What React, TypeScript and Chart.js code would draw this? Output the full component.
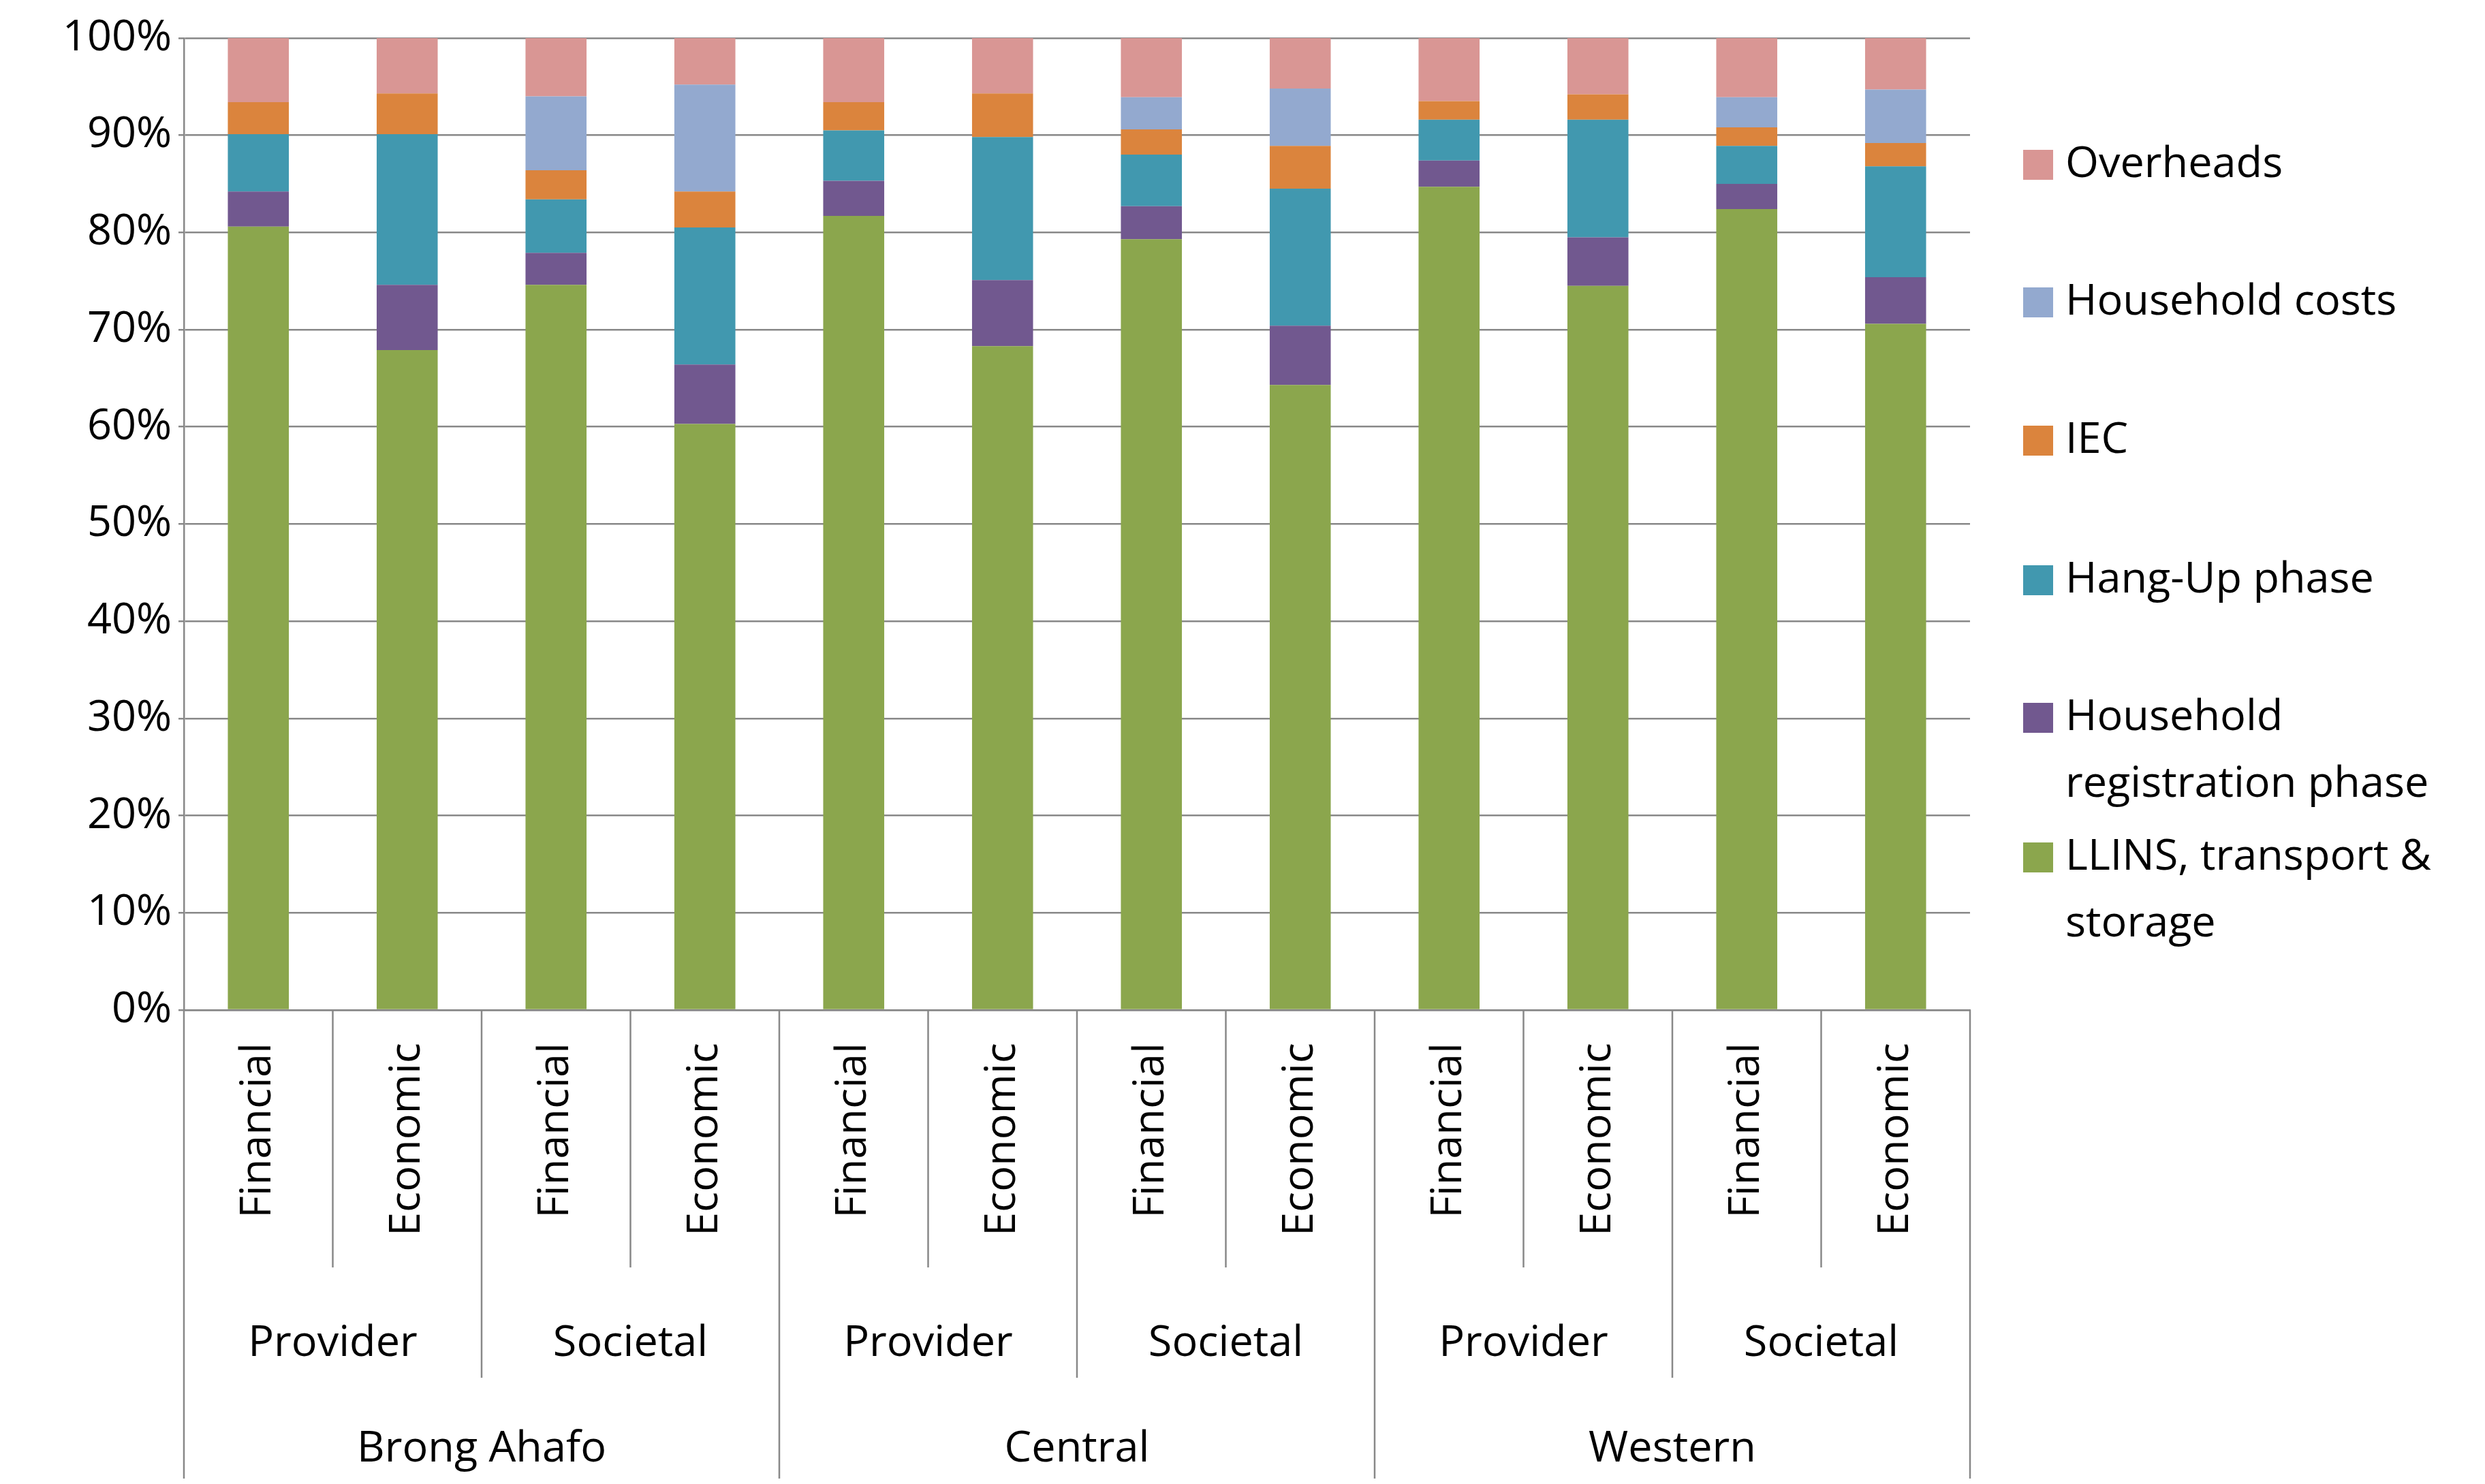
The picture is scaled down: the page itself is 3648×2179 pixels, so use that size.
import React, { useEffect, useRef } from "react";
import { Chart, registerables } from "chart.js";
Chart.register(...registerables);

const measures = ["Financial", "Economic", "Financial", "Economic", "Financial", "Economic", "Financial", "Economic", "Financial", "Economic", "Financial", "Economic"];
const perspectives = ["Provider", "Societal", "Provider", "Societal", "Provider", "Societal"];
const regions = ["Brong Ahafo", "Central", "Western"];

const llins = [80.6, 67.9, 74.6, 60.3, 81.7, 68.3, 79.3, 64.3, 84.7, 74.5, 82.4, 70.6];
const registration = [3.6, 6.7, 3.3, 6.1, 3.6, 6.8, 3.4, 6.1, 2.7, 5.0, 2.6, 4.8];
const hangUp = [5.9, 15.5, 5.5, 14.1, 5.2, 14.7, 5.3, 14.1, 4.2, 12.1, 3.9, 11.4];
const iec = [3.3, 4.2, 3.0, 3.7, 2.9, 4.5, 2.6, 4.4, 1.9, 2.6, 1.9, 2.4];
const householdCosts = [0, 0, 7.6, 11.0, 0, 0, 3.3, 5.9, 0, 0, 3.1, 5.5];
const overheads = [6.6, 5.7, 6.0, 4.8, 6.6, 5.7, 6.1, 5.2, 6.5, 5.8, 6.1, 5.3];

const FONT = "'Open Sans', sans-serif";
const FS = 63;

const series = [
  { label: "LLINS, transport & storage", lines: ["LLINS, transport &", "storage"], data: llins, color: "#8BA64D" },
  { label: "Household registration phase", lines: ["Household", "registration phase"], data: registration, color: "#71588F" },
  { label: "Hang-Up phase", lines: ["Hang-Up phase"], data: hangUp, color: "#4198AF" },
  { label: "IEC", lines: ["IEC"], data: iec, color: "#DB843D" },
  { label: "Household costs", lines: ["Household costs"], data: householdCosts, color: "#93A9CF" },
  { label: "Overheads", lines: ["Overheads"], data: overheads, color: "#D99694" },
];

const groupPlugin = {
  id: "groups",
  afterDraw(chart: any) {
    const ctx = chart.ctx;
    const x = chart.scales.x;
    const area = chart.chartArea;
    const n = measures.length;
    const step = x.getPixelForValue(1) - x.getPixelForValue(0);
    const edge = (i: number) => x.getPixelForValue(0) - step / 2 + i * step;
    const bottom = chart.height;
    ctx.save();
    ctx.strokeStyle = "#888";
    ctx.lineWidth = 2.5;
    for (let i = 0; i <= n; i++) {
      let y2 = area.bottom + 378;
      if (i % 4 === 0) y2 = bottom;
      else if (i % 2 === 0) y2 = area.bottom + 540;
      ctx.beginPath();
      ctx.moveTo(edge(i), area.bottom);
      ctx.lineTo(edge(i), y2);
      ctx.stroke();
    }
    ctx.fillStyle = "#000";
    ctx.font = `${FS}px ${FONT}`;
    ctx.textAlign = "center";
    ctx.textBaseline = "middle";
    perspectives.forEach((p, i) => ctx.fillText(p, (edge(i * 2) + edge(i * 2 + 2)) / 2, area.bottom + 490));
    regions.forEach((r, i) => ctx.fillText(r, (edge(i * 4) + edge(i * 4 + 4)) / 2, area.bottom + 645));
    // legend
    const lx = 2962;
    const rows = [234, 436, 639, 844, 1046, 1251];
    const order = [...series].reverse();
    ctx.textAlign = "left";
    order.forEach((s, i) => {
      const y = rows[i];
      ctx.fillStyle = s.color;
      ctx.fillRect(lx, y - 22, 44, 44);
      ctx.fillStyle = "#000";
      s.lines.forEach((l, j) => ctx.fillText(l, lx + 62, y + j * 98));
    });
    ctx.restore();
  },
};

export default function App() {
  const ref = useRef<HTMLCanvasElement>(null);
  useEffect(() => {
    const chart = new Chart(ref.current!, {
      type: "bar",
      data: {
        labels: measures,
        datasets: series.map((s) => ({
          label: s.label,
          data: s.data,
          backgroundColor: s.color,
          barPercentage: 0.41,
          categoryPercentage: 1,
        })),
      },
      options: {
        animation: false,
        responsive: false,
        layout: { padding: { top: 30, right: 748, left: 0, bottom: 0 } },
        plugins: { legend: { display: false }, tooltip: { enabled: false } },
        scales: {
          x: {
            stacked: true,
            grid: { display: false },
            border: { color: "#888", width: 2.5 },
            ticks: { color: "#000", font: { family: FONT, size: FS }, minRotation: 90, maxRotation: 90, padding: 40 },
            afterFit: (s: any) => { s.height = 688; },
          },
          y: {
            stacked: true,
            min: 0,
            max: 100,
            grid: { color: "#888", lineWidth: 2.5 },
            border: { color: "#888", width: 2.5 },
            ticks: { stepSize: 10, color: "#000", font: { family: FONT, size: FS }, callback: (v: any) => v + "%", padding: 10 },
            afterFit: (s: any) => { s.width = 262; },
          },
        },
      },
      plugins: [groupPlugin],
    });
    return () => chart.destroy();
  }, []);
  return <canvas ref={ref} width={3632} height={2163} style={{ width: 3632, height: 2163 }} />;
}
